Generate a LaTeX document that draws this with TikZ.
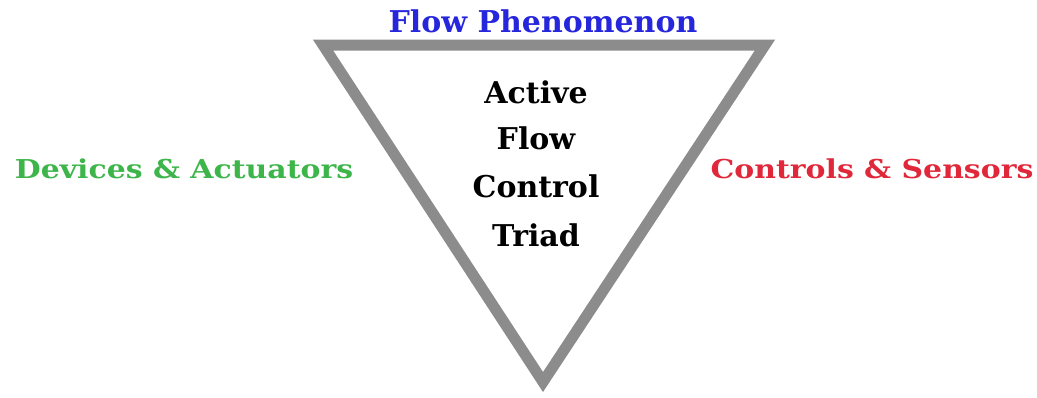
\documentclass[tikz,border=0pt]{standalone}
\usepackage{fontspec}
\setmainfont{DejaVu Serif}
\newfontfamily\widefont[FakeStretch=1.15]{DejaVu Serif}
\usepackage{tikz}
\definecolor{edgegray}{HTML}{8C8C8C}
\definecolor{titleblue}{HTML}{2626DC}
\definecolor{leftgreen}{HTML}{3DB54A}
\definecolor{rightred}{HTML}{E0283A}
\tikzset{
  lbl/.style={font=\fontsize{30}{36}\selectfont\bfseries, inner sep=0pt, anchor=base},
  side/.style={font=\widefont\fontsize{26}{31}\selectfont\bfseries, inner sep=0pt, anchor=base}
}
\begin{document}
\begin{tikzpicture}[x=1pt,y=-1pt]
  \useasboundingbox (0,0) rectangle (1037,397);
  % the triad
  \coordinate (tl) at (323,45);
  \coordinate (tr) at (765,45);
  \coordinate (bt) at (543,382);
  \draw[edgegray, line width=11pt, line join=miter] (tl) -- (tr) -- (bt) -- cycle;
  % corner labels
  \node[lbl, titleblue] (top) at (543,32) {Flow Phenomenon};
  \node[side, leftgreen] (left) at (184,178) {Devices \& Actuators};
  \node[side, rightred] (right) at (872,178) {Controls \& Sensors};
  % centre title, one line per node
  \node[lbl] (core1) at (536,103) {Active};
  \node[lbl] (core2) at (536,149) {Flow};
  \node[lbl] (core3) at (536,197) {Control};
  \node[lbl] (core4) at (536,246) {Triad};
\end{tikzpicture}
\end{document}
